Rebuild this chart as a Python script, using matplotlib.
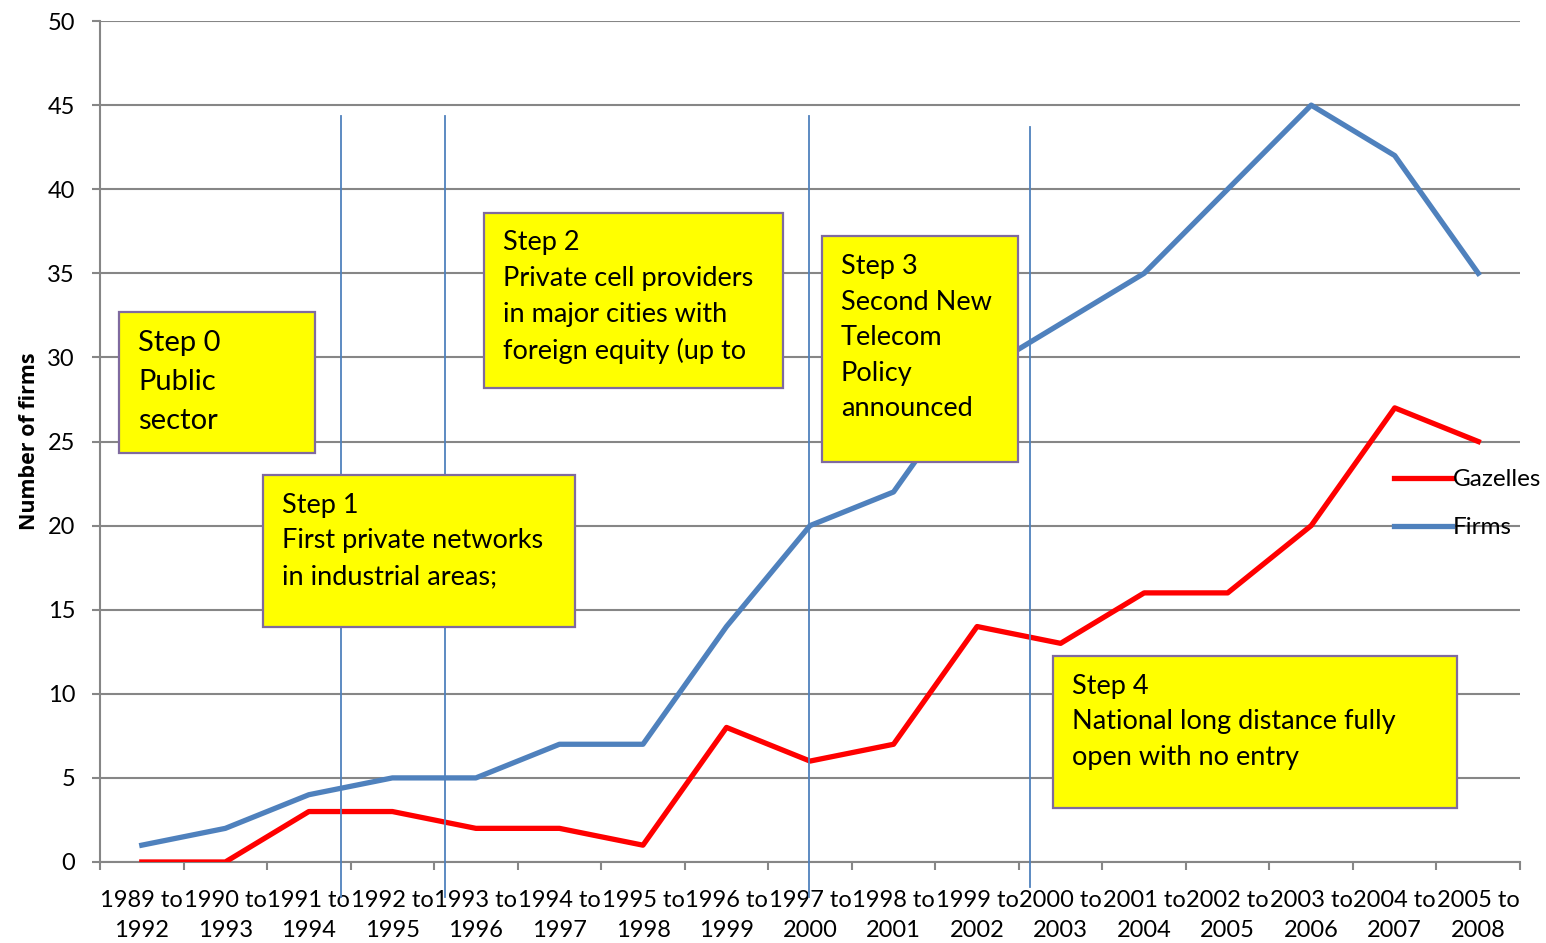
import matplotlib
matplotlib.use("Agg")
import matplotlib.pyplot as plt
from matplotlib.patches import Rectangle

plt.rcParams['font.family'] = ['Lato', 'DejaVu Sans']

# Periods and counts of firms per three-year window
periods = ['1989 to\n1992', '1990 to\n1993', '1991 to\n1994', '1992 to\n1995',
           '1993 to\n1996', '1994 to\n1997', '1995 to\n1998', '1996 to\n1999',
           '1997 to\n2000', '1998 to\n2001', '1999 to\n2002', '2000 to\n2003',
           '2001 to\n2004', '2002 to\n2005', '2003 to\n2006', '2004 to\n2007',
           '2005 to\n2008']
gazelles = [0, 0, 3, 3, 2, 2, 1, 8, 6, 7, 14, 13, 16, 16, 20, 27, 25]
firms = [1, 2, 4, 5, 5, 7, 7, 14, 20, 22, 29, 32, 35, 40, 45, 42, 35]

# Policy step markers (x in category units) and text boxes
step_lines_x = [2.39, 3.63, 7.99, 10.63]
step_lines_top = [44.35, 44.35, 44.35, 43.7]
step_lines_bottom = [-2.1, -2.1, -2.1, -1.5]

steps = [
    ('Step 0\nPublic\nsector', (-0.27, 24.3, 2.07, 32.7), 21, 1.62),
    ('Step 1\nFirst private networks\nin industrial areas;', (1.45, 14.0, 5.19, 23.0), 19.5, 1.53),
    ('Step 2\nPrivate cell providers\nin major cities with\nforeign equity (up to', (4.10, 28.2, 7.68, 38.6), 19.5, 1.53),
    ('Step 3\nSecond New\nTelecom\nPolicy\nannounced', (8.14, 23.8, 10.49, 37.2), 19.5, 1.53),
    ('Step 4\nNational long distance fully\nopen with no entry', (10.91, 3.2, 15.75, 12.25), 19.5, 1.53),
]

fig = plt.figure(figsize=(15.46, 9.43), dpi=100)
ax = fig.add_axes([0.0647, 0.0859, 0.9185, 0.8918])

x = list(range(len(periods)))
ax.plot(x, gazelles, color='#FF0000', lw=3.8, label='Gazelles', zorder=3)
ax.plot(x, firms, color='#4F81BD', lw=3.8, label='Firms', zorder=3)

for lx, top, bot in zip(step_lines_x, step_lines_top, step_lines_bottom):
    ax.plot([lx, lx], [bot, top], color='#4F81BD', lw=1.3, clip_on=False, zorder=4)

for text, (x0, y0, x1, y1), fs, ls in steps:
    ax.add_patch(Rectangle((x0, y0), x1 - x0, y1 - y0, facecolor='#FFFF00',
                           edgecolor='#7F6A9F', lw=1.6, zorder=5))
    ax.text(x0 + 0.23, y1 - 1.05, text, fontsize=fs, va='top', ha='left',
            linespacing=ls, zorder=6)

ax.set_xlim(-0.5, 16.5)
ax.set_ylim(0, 50)
ax.set_yticks(range(0, 51, 5))
ax.set_xticks(x)
ax.set_xticklabels(periods, fontsize=17, linespacing=1.55)
ax.set_xticks([i - 0.5 for i in range(len(periods) + 1)], minor=True)
ax.tick_params(axis='x', which='major', length=0, pad=20)
ax.tick_params(axis='x', which='minor', length=6, color='#868686', width=1.5)
ax.tick_params(axis='y', length=6, color='#868686', width=1.5, labelsize=17, pad=12)

ax.grid(axis='y', color='#868686', lw=1.5, zorder=0)
ax.set_axisbelow(True)
for side in ['top', 'right']:
    ax.spines[side].set_visible(False)
for side in ['left', 'bottom']:
    ax.spines[side].set_color('#868686')
    ax.spines[side].set_linewidth(1.5)

ax.set_ylabel('Number of firms', fontsize=15.5, fontweight='bold', labelpad=5,
              family=['Open Sans', 'DejaVu Sans'])

ax.legend(loc='upper left', bbox_to_anchor=(0.911, 0.467), frameon=False,
          fontsize=17.5, handlelength=2.4, handletextpad=0.05, borderpad=0,
          borderaxespad=0, labelspacing=1.1)

fig.savefig('out.png', dpi=100)
